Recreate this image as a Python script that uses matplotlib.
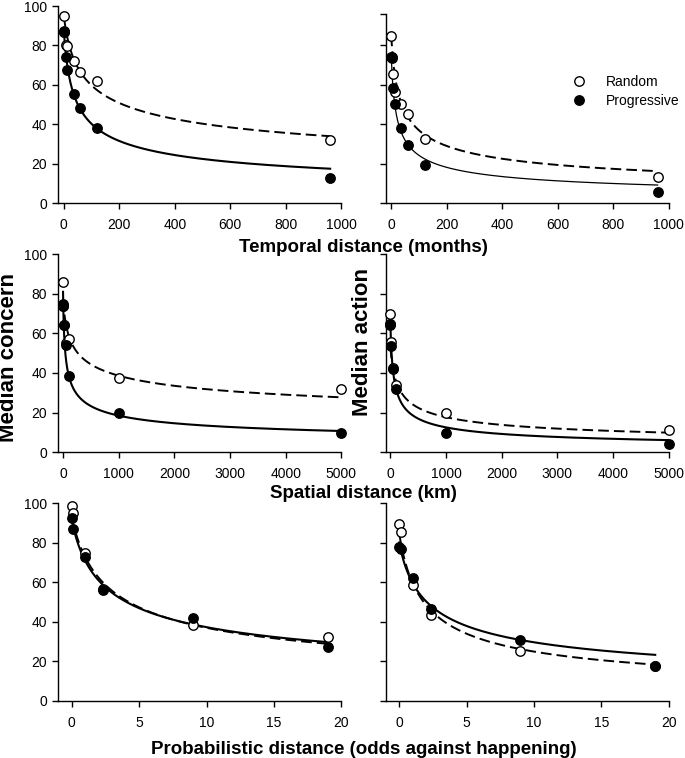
import numpy as np
import matplotlib
matplotlib.use('Agg')
import matplotlib.pyplot as plt
from matplotlib.lines import Line2D

plt.rcParams['font.family'] = ['Liberation Sans', 'DejaVu Sans']

# ---------------- data (medians) ----------------
temporal_x = [0, 1, 6, 12, 36, 60, 120, 960]
temporal_concern_random = [95, 87, 80, 79.7, 72, 66.8, 62, 32.3]
temporal_concern_progressive = [86.8, 87.3, 74.3, 67.5, 55.3, 48.4, 38.2, 13]
temporal_action_random = [84.8, 74, 65.5, 56.5, 50.3, 45.2, 32.8, 13.4]
temporal_action_progressive = [74, 73.5, 58.5, 50.1, 38.4, 29.8, 19.3, 5.7]

spatial_x = [0, 1, 10, 50, 100, 1000, 5000]
spatial_concern_random = [86, 74, 64, 55, 56.9, 37.7, 31.8]
spatial_concern_progressive = [75, 74, 64, 54.3, 38.7, 19.6, 9.8]
spatial_action_random = [69.5, 64.5, 55.5, 42.5, 34, 20, 11.2]
spatial_action_progressive = [64.5, 64, 53.4, 42, 31.8, 9.8, 4.4]

prob_x = [0, 0.11, 1, 2.33, 9, 19]
prob_concern_random = [98.6, 95, 75, 56.5, 38.6, 32.6]
prob_concern_progressive = [92.7, 87, 72.7, 56, 42, 27.2]
prob_action_random = [89.3, 85.4, 58.6, 43.7, 25.5, 17.5]
prob_action_progressive = [78, 77, 62.3, 46.7, 31, 17.8]

# hyperboloid fit parameters  y = A / (1 + k x)^s
# order: temporal concern, temporal action, spatial concern, spatial action,
#        probabilistic concern, probabilistic action
random_fit_A = [94.97, 85.02, 77.37, 52.79, 92.90, 84.90]
random_fit_k = [0.045709, 0.079433, 0.026303, 0.018197, 0.79433, 1.0]
random_fit_s = [0.270, 0.380, 0.210, 0.370, 0.420, 0.510]
progressive_fit_A = [87.43, 75.12, 80.93, 63.98, 91.41, 80.15]
progressive_fit_k = [0.063096, 0.12023, 0.075858, 0.036308, 0.95499, 1.0965]
progressive_fit_s = [0.390, 0.440, 0.340, 0.450, 0.380, 0.400]

temporal_ticks = [0, 200, 400, 600, 800, 1000]
spatial_ticks = [0, 1000, 2000, 3000, 4000, 5000]
prob_ticks = [0, 5, 10, 15, 20]
y_ticks = [0, 20, 40, 60, 80, 100]

x_labels = ['Temporal distance (months)', 'Spatial distance (km)',
            'Probabilistic distance (odds against happening)']
series_labels = ['Random', 'Progressive']

W, H = 685, 758
fig = plt.figure(figsize=(W / 100, H / 100), dpi=100)


def make_ax(left, top, bottom, width=283.0):
    return fig.add_axes([left / W, 1 - bottom / H, width / W, (bottom - top) / H])


rows = [(6, 203.3), (254, 452.3), (503.3, 701)]
cols = [58.3, 385.7]

panels = [
    (temporal_x, temporal_concern_random, temporal_concern_progressive, temporal_ticks, (-20, 1000)),
    (temporal_x, temporal_action_random, temporal_action_progressive, temporal_ticks, (-20, 1000)),
    (spatial_x, spatial_concern_random, spatial_concern_progressive, spatial_ticks, (-85, 5000)),
    (spatial_x, spatial_action_random, spatial_action_progressive, spatial_ticks, (-85, 5000)),
    (prob_x, prob_concern_random, prob_concern_progressive, prob_ticks, (-1, 20)),
    (prob_x, prob_action_random, prob_action_progressive, prob_ticks, (-1, 20)),
]

for i, (xs, yr, yp, xt, xl) in enumerate(panels):
    r, c = divmod(i, 2)
    top, bottom = rows[r]
    ymax = 100
    if i == 1:
        # top-right panel's y axis stops a little short of 100
        ymax = 96
        top = bottom - (bottom - top) * ymax / 100
    ax = make_ax(cols[c], top, bottom)
    xx = np.linspace(0, max(xs), 3000)
    ax.plot(xx, random_fit_A[i] / (1 + random_fit_k[i] * xx) ** random_fit_s[i],
            color='black', lw=1.4, linestyle=(0, (5.5, 2.6)), zorder=2)
    ax.plot(xx, progressive_fit_A[i] / (1 + progressive_fit_k[i] * xx) ** progressive_fit_s[i],
            color='black', lw=0.9 if i == 1 else 1.5, zorder=2)
    ax.plot(xs, yr, 'o', ms=6.8, mfc='white', mec='black', mew=1.0, zorder=3,
            clip_on=False)
    ax.plot(xs, yp, 'o', ms=6.8, mfc='black', mec='black', mew=1.0, zorder=4,
            clip_on=False)
    ax.set_xlim(*xl)
    ax.set_ylim(0, ymax)
    ax.set_xticks(xt)
    if i == 1:
        ax.set_yticks([0, 20, 40, 60, 80, ymax])
    else:
        ax.set_yticks(y_ticks)
    if c == 1:
        ax.set_yticklabels([])
    for sp in ['top', 'right']:
        ax.spines[sp].set_visible(False)
    for sp in ['left', 'bottom']:
        ax.spines[sp].set_linewidth(1.0)
    ax.tick_params(direction='out', length=4, width=1.0, labelsize=10,
                   colors='black')
    ax.tick_params(axis='y', pad=4)
    ax.tick_params(axis='x', pad=6.5)

# legend in top-right panel
handles = [Line2D([], [], ls='none', marker='o', ms=6.8, mfc='white', mec='black', mew=1.0),
           Line2D([], [], ls='none', marker='o', ms=6.8, mfc='black', mec='black', mew=1.0)]
fig.legend(handles, series_labels, loc='center left',
           bbox_to_anchor=(572 / W, 1 - 91.5 / H), frameon=False, fontsize=10,
           handlelength=1.0, handletextpad=1.45, labelspacing=0.35, borderpad=0,
           borderaxespad=0)

# axis labels
for y_px, lab in zip([248, 493, 750], x_labels):
    fig.text(363.5 / W, 1 - y_px / H, lab, ha='center', va='center',
             fontsize=13.5, fontweight='bold')
fig.text(9 / W, 1 - 358 / H, 'Median concern', rotation=90, ha='center',
         va='center', fontsize=16, fontweight='bold')
fig.text(362 / W, 1 - 342 / H, 'Median action', rotation=90, ha='center',
         va='center', fontsize=16, fontweight='bold')

fig.savefig('out.png', dpi=100)
